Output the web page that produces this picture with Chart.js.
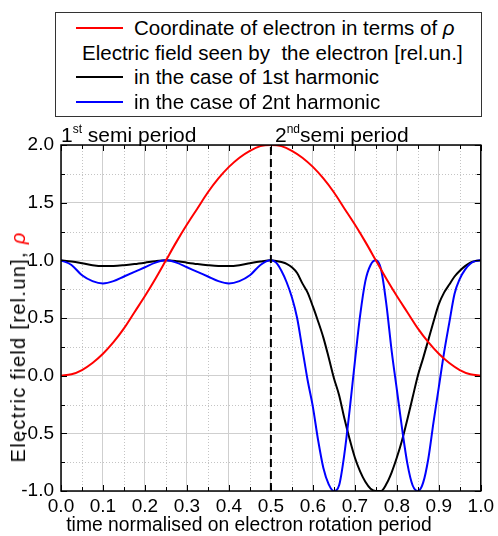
<!DOCTYPE html>
<html>
<head>
<meta charset="utf-8">
<script src="https://cdn.jsdelivr.net/npm/chart.js@4.4.1/dist/chart.umd.min.js"></script>
<style>
  html, body { margin: 0; padding: 0; background: #fff; }
  #wrap { position: relative; width: 498px; height: 536px; font-family: "Liberation Sans", Arial, sans-serif; color: #000; }
  #wrap canvas { position: absolute; left: 0; top: 0; }
  .abs { position: absolute; white-space: pre; line-height: 1; }
  #legend { position: absolute; left: 55px; top: 12px; width: 425px; height: 103px; border: 1px solid #333; background: #fff; font-size: 20.5px; }
  #legend .row { position: absolute; height: 24px; line-height: 24px; white-space: pre; }
  #legend .swatch { position: absolute; left: 20px; width: 47px; height: 2px; }
  #legend .txt { position: absolute; left: 78px; top: 0; }
  sup { font-size: 12px; vertical-align: 0; position: relative; top: -9px; }
</style>
</head>
<body>
<div id="wrap">
  <canvas id="field-chart" width="498" height="536"></canvas>
  <div id="legend"></div>
  <div class="abs" style="left:61px; top:124px; font-size:21px;">1<sup>st</sup> semi period</div>
  <div class="abs" style="left:275px; top:124px; font-size:21px;">2<sup>nd</sup>semi period</div>
  <div class="abs" id="xtitle" style="left:0; width:498px; text-align:center; top:515px; font-size:19.3px;">time normalised on electron rotation period</div>
  <div class="abs" id="ytitle" style="left:18px; top:347px; font-size:20px; letter-spacing:1.3px; transform: translate(-50%, -50%) rotate(-90deg);">Electric field [rel.un], <span style="color:#f00; font-style:italic;">ρ</span></div>
</div>
<script>
  // time axis samples
  const tRed = [0, 0.025, 0.05, 0.075, 0.1, 0.125, 0.15, 0.175, 0.2, 0.225, 0.25, 0.275, 0.3, 0.325, 0.35, 0.375, 0.4, 0.425, 0.45, 0.475, 0.5,
    0.525, 0.55, 0.575, 0.6, 0.625, 0.65, 0.675, 0.7, 0.725, 0.75, 0.775, 0.8, 0.825, 0.85, 0.875, 0.9, 0.925, 0.95, 0.975, 1];
  const rho = [0, 0.012, 0.049, 0.11, 0.19, 0.29, 0.41, 0.55, 0.69, 0.84, 1.0, 1.16, 1.31, 1.45, 1.59, 1.71, 1.81, 1.89, 1.95, 1.99, 2.0,
    1.99, 1.95, 1.89, 1.81, 1.71, 1.59, 1.45, 1.31, 1.16, 1.0, 0.84, 0.69, 0.55, 0.41, 0.29, 0.19, 0.11, 0.049, 0.012, 0];

  const tField = [0, 0.025, 0.05, 0.075, 0.1, 0.125, 0.15, 0.175, 0.2, 0.225, 0.25, 0.275, 0.3, 0.325, 0.35, 0.375, 0.4, 0.425, 0.45, 0.475, 0.5,
    0.5125, 0.525, 0.5375, 0.55, 0.5625, 0.575, 0.5875, 0.6, 0.6125, 0.625, 0.6375, 0.65, 0.6625, 0.675, 0.6875, 0.7, 0.7125, 0.725, 0.7375, 0.75,
    0.7625, 0.775, 0.7875, 0.8, 0.8125, 0.825, 0.8375, 0.85, 0.8625, 0.875, 0.8875, 0.9, 0.9125, 0.925, 0.9375, 0.95, 0.9625, 0.975, 0.9875, 1];
  const field1st = [1.0, 0.99, 0.975, 0.958, 0.95, 0.951, 0.958, 0.968, 0.98, 0.993, 1.0, 0.993, 0.98, 0.968, 0.958, 0.951, 0.95, 0.958, 0.975, 0.99, 1.0,
    0.995, 0.985, 0.97, 0.94, 0.89, 0.80, 0.72, 0.60, 0.47, 0.33, 0.16, -0.02, -0.17, -0.37, -0.55, -0.71, -0.83, -0.92, -0.98, -1.0,
    -1.0, -0.94, -0.84, -0.71, -0.56, -0.38, -0.19, 0.0, 0.15, 0.31, 0.47, 0.62, 0.72, 0.79, 0.86, 0.91, 0.95, 0.98, 0.995, 1.0];
  const field2nd = [1.0, 0.96, 0.87, 0.82, 0.80, 0.82, 0.86, 0.90, 0.94, 0.98, 1.0, 0.98, 0.94, 0.90, 0.86, 0.82, 0.80, 0.82, 0.87, 0.96, 1.0,
    0.98, 0.91, 0.81, 0.68, 0.50, 0.23, -0.04, -0.27, -0.56, -0.80, -0.94, -1.0, -0.95, -0.68, -0.30, 0.12, 0.52, 0.82, 0.96, 1.0,
    0.92, 0.62, 0.22, -0.12, -0.46, -0.76, -0.95, -1.0, -0.93, -0.72, -0.40, -0.10, 0.20, 0.46, 0.71, 0.84, 0.92, 0.97, 0.995, 1.0];

  // vertical divider between the two semi periods
  const tDivider = [0.5, 0.5];
  const yDivider = [-1, 2];

  const xTicks = [0.0, 0.1, 0.2, 0.3, 0.4, 0.5, 0.6, 0.7, 0.8, 0.9, 1.0];
  const xMinorTicks = [0.05, 0.15, 0.25, 0.35, 0.45, 0.55, 0.65, 0.75, 0.85, 0.95];
  const yTicks = [-1.0, -0.5, 0.0, 0.5, 1.0, 1.5, 2.0];
  const yMinorTicks = [-0.75, -0.25, 0.25, 0.75, 1.25, 1.75];

  const legendItems = [
    { color: '#ff0000', text: 'Coordinate of electron in terms of <i>ρ</i>' },
    { color: null, text: 'Electric field seen by  the electron [rel.un.]' },
    { color: '#000000', text: 'in the case of 1st harmonic' },
    { color: '#0000ff', text: 'in the case of 2nt harmonic' }
  ];

  function pairs(xs, ys) {
    return xs.map(function (x, i) { return { x: x, y: ys[i] }; });
  }

  // legend box
  const legendEl = document.getElementById('legend');
  legendItems.forEach(function (item, i) {
    const row = document.createElement('div');
    row.className = 'row';
    row.style.top = (3 + i * 24.7) + 'px';
    row.style.left = '0px';
    row.style.width = '100%';
    if (item.color) {
      row.innerHTML = '<span class="swatch" style="top:11px;background:' + item.color + '"></span>' +
        '<span class="txt">' + item.text + '</span>';
    } else {
      row.innerHTML = '<span class="txt" style="left:26px">' + item.text + '</span>';
    }
    legendEl.appendChild(row);
  });

  // dotted minor grid, drawn under the curves
  const minorGrid = {
    id: 'minorGrid',
    beforeDatasetsDraw: function (chart) {
      const c = chart.ctx, a = chart.chartArea;
      const sx = chart.scales.x, sy = chart.scales.y;
      c.save();
      c.strokeStyle = '#c4c4c4';
      c.lineWidth = 1;
      c.setLineDash([1, 2]);
      xMinorTicks.forEach(function (v) {
        const px = Math.round(sx.getPixelForValue(v)) + 0.5;
        c.beginPath(); c.moveTo(px, a.top); c.lineTo(px, a.bottom); c.stroke();
      });
      yMinorTicks.forEach(function (v) {
        const py = Math.round(sy.getPixelForValue(v)) + 0.5;
        c.beginPath(); c.moveTo(a.left, py); c.lineTo(a.right, py); c.stroke();
      });
      c.restore();
    }
  };

  // frame + inward tick marks on all four sides
  const frameTicks = {
    id: 'frameTicks',
    afterDraw: function (chart) {
      const c = chart.ctx, a = chart.chartArea;
      const sx = chart.scales.x, sy = chart.scales.y;
      c.save();
      c.strokeStyle = '#000';
      c.lineWidth = 1;
      xTicks.concat(xMinorTicks).forEach(function (v, i) {
        const px = Math.round(sx.getPixelForValue(v)) + 0.5;
        const len = i < xTicks.length ? 6 : 4;
        c.beginPath();
        c.moveTo(px, a.bottom); c.lineTo(px, a.bottom - len);
        c.moveTo(px, a.top); c.lineTo(px, a.top + len);
        c.stroke();
      });
      yTicks.concat(yMinorTicks).forEach(function (v, i) {
        const py = Math.round(sy.getPixelForValue(v)) + 0.5;
        const len = i < yTicks.length ? 6 : 4;
        c.beginPath();
        c.moveTo(a.left, py); c.lineTo(a.left + len, py);
        c.moveTo(a.right, py); c.lineTo(a.right - len, py);
        c.stroke();
      });
      c.lineWidth = 1.5;
      c.strokeRect(a.left, a.top, a.right - a.left, a.bottom - a.top);
      c.restore();
    }
  };

  const ctx = document.getElementById('field-chart');
  new Chart(ctx, {
    type: 'line',
    data: {
      datasets: [{
        label: 'divider',
        data: pairs(tDivider, yDivider),
        borderColor: '#000',
        borderWidth: 2,
        borderDash: [8, 4],
        pointRadius: 0,
        order: 0
      }, {
        label: 'rho',
        data: pairs(tRed, rho),
        borderColor: '#ff0000',
        borderWidth: 2,
        pointRadius: 0,
        cubicInterpolationMode: 'monotone',
        order: 1
      }, {
        label: '2nd harmonic',
        data: pairs(tField, field2nd),
        borderColor: '#0000ff',
        borderWidth: 2,
        pointRadius: 0,
        cubicInterpolationMode: 'monotone',
        order: 2
      }, {
        label: '1st harmonic',
        data: pairs(tField, field1st),
        borderColor: '#000000',
        borderWidth: 2,
        pointRadius: 0,
        cubicInterpolationMode: 'monotone',
        order: 3
      }]
    },
    options: {
      responsive: false,
      animation: false,
      events: [],
      layout: { padding: { top: 145, right: 16, left: 0, bottom: 0 } },
      plugins: { legend: { display: false }, tooltip: { enabled: false } },
      scales: {
        x: {
          type: 'linear', position: 'bottom', min: 0, max: 1,
          afterBuildTicks: function (s) { s.ticks = xTicks.map(function (v) { return { value: v }; }); },
          afterFit: function (s) { s.height = 45; },
          ticks: { padding: 4, color: '#000', font: { family: 'Liberation Sans', size: 19 }, callback: function (v) { return v.toFixed(1); } },
          grid: { color: '#cfcfcf', lineWidth: 1, drawTicks: false },
          border: { display: false }
        },
        y: {
          type: 'linear', position: 'left', min: -1, max: 2,
          afterBuildTicks: function (s) { s.ticks = yTicks.map(function (v) { return { value: v }; }); },
          afterFit: function (s) { s.width = 61; },
          ticks: { padding: 7, color: '#000', font: { family: 'Liberation Sans', size: 19 }, callback: function (v) { return v.toFixed(1); } },
          grid: { color: '#cfcfcf', lineWidth: 1, drawTicks: false },
          border: { display: false }
        }
      }
    },
    plugins: [minorGrid, frameTicks]
  });
</script>
</body>
</html>
